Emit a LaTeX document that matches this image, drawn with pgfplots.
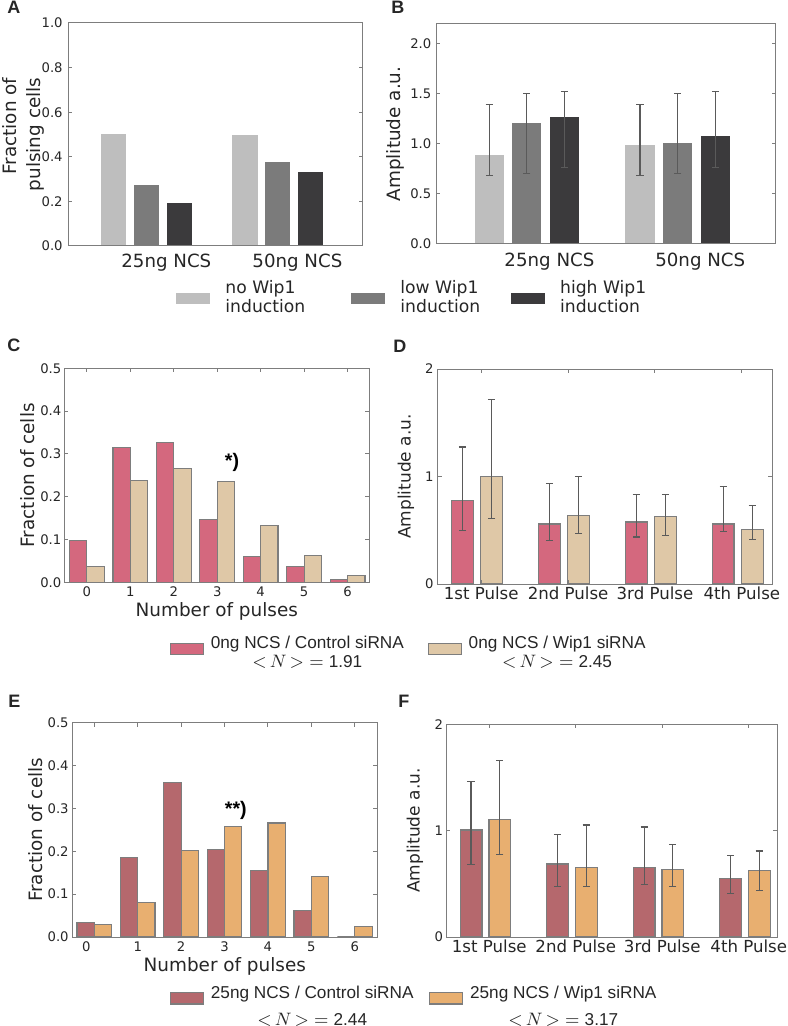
\documentclass[border=0pt]{standalone}
\usepackage{fontspec}
\setmainfont{DejaVu Sans}
\newfontfamily\lib{Liberation Sans}
\usepackage{pgfplots}
\pgfplotsset{compat=1.18}
\newlength\px \setlength\px{0.5pt}
\definecolor{g1}{RGB}{190,190,190}
\definecolor{g2}{RGB}{123,123,123}
\definecolor{g3}{RGB}{59,58,60}
\definecolor{redC}{RGB}{212,104,126}
\definecolor{tanC}{RGB}{223,200,167}
\definecolor{redE}{RGB}{181,104,109}
\definecolor{orE}{RGB}{232,175,112}
\definecolor{framec}{RGB}{125,125,125}
\definecolor{edgec}{RGB}{125,125,125}
\definecolor{errc}{RGB}{90,90,90}
\definecolor{txtc}{RGB}{38,38,38}
\newcommand\ticfont{\fontsize{6.6pt}{8pt}\selectfont}
\newcommand\labfont{\fontsize{9.2pt}{11pt}\selectfont}

\pgfplotsset{
  base/.style={scale only axis, anchor=north west, clip=false, axis on top,
    axis line style={draw=framec, line width=1\px},
    tick style={draw=framec, line width=1\px},
    major tick length=4\px, tick align=inside,
    ticklabel style={font=\ticfont, text=txtc},
    /pgf/number format/assume math mode=true,
    xticklabel style={inner sep=0pt, anchor=north},
    yticklabel style={inner sep=0pt, anchor=east},
    every axis y label/.style={rotate=90, anchor=center, font=\labfont, text=txtc, inner sep=0pt},
    every axis x label/.style={anchor=north, font=\labfont, text=txtc, inner sep=0pt},
    legend style={draw=none, fill=none, inner sep=0pt, column sep=0pt, anchor=west,
      nodes={inner sep=0pt}, text=txtc},
    legend cell align=left},
  dec1/.style={yticklabel style={/pgf/number format/fixed, /pgf/number format/fixed zerofill, /pgf/number format/precision=1}},
  barA/.style={ybar, bar width=0.8, bar shift=0pt, draw=white, line width=1\px},
  barC/.style={ybar, bar width=0.4, bar shift=0pt, draw=edgec, line width=1.2\px},
  barD/.style={ybar, bar width=0.25, bar shift=0pt, draw=edgec, line width=1.2\px},
  eb/.style={error bars/y dir=both, error bars/y explicit,
    error bars/error bar style={draw=errc, line width=1.2\px},
    error bars/error mark options={draw=errc, line width=1.2\px, mark size=3.6\px, rotate=90}},
  swA/.style={legend image code/.code={\draw[##1] (0,-10.8\px) rectangle (35\px,0.8\px); \path (49\px,0);}},
  swC/.style={legend image code/.code={\draw[##1] (0,-6.3\px) rectangle (33\px,4.7\px); \path (40\px,0);}},
  swE/.style={legend image code/.code={\draw[##1] (0,-7.5\px) rectangle (33.4\px,3.9\px); \path (40\px,0);}},
}

\begin{document}
\begin{tikzpicture}

% A
\begin{axis}[base, dec1, at={(68\px,-23\px)}, width=295\px, height=223\px,
  xmin=0, xmax=9, ymin=0, ymax=1,
  xtick={3,7}, xticklabels={25ng NCS,50ng NCS}, xtick style={draw=none},
  xticklabel style={font=\fontsize{9.1pt}{11pt}\selectfont, yshift=-8\px},
  ytick={0,0.2,0.4,0.6,0.8,1.0}, yticklabel style={xshift=-5\px},
  ylabel={\begin{tabular}{@{}r@{}}Fraction of\\pulsing cells\end{tabular}},
  ylabel style={at={(axis description cs:-0.15,0.5)}, font=\fontsize{9.2pt}{11.7pt}\selectfont},
  legend columns=3,
  legend style={at={(axis description cs:0.3627,-0.213)}, font=\fontsize{8.6pt}{9.5pt}\selectfont}]
\addplot[barA, fill=g1, swA] coordinates {(1.4,0.503) (5.4,0.499)};
\addlegendentry{\makebox[125\px][l]{\begin{tabular}{@{}l@{}}no Wip1\\induction\end{tabular}}}
\addplot[barA, fill=g2, swA] coordinates {(2.4,0.277) (6.4,0.380)};
\addlegendentry{\makebox[109.7\px][l]{\begin{tabular}{@{}l@{}}low Wip1\\induction\end{tabular}}}
\addplot[barA, fill=g3, swA] coordinates {(3.4,0.194) (7.4,0.333)};
\addlegendentry{\begin{tabular}{@{}l@{}}high Wip1\\induction\end{tabular}}
\end{axis}

% B
\begin{axis}[base, dec1, at={(436.3\px,-24\px)}, width=339.4\px, height=220\px,
  xmin=0, xmax=9, ymin=0, ymax=2.2,
  xtick={3,7}, xticklabels={25ng NCS,50ng NCS}, xtick style={draw=none},
  xticklabel style={font=\fontsize{9.1pt}{11pt}\selectfont, yshift=-9\px},
  ytick={0,0.5,1.0,1.5,2.0}, yticklabel style={xshift=-4.6\px},
  ylabel={Amplitude a.u.},
  ylabel style={at={(axis description cs:-0.12,0.5)}}]
\addplot[barA, fill=g1, eb] table[x=x, y=y, y error plus expr=\thisrow{hi}-\thisrow{y}, y error minus expr=\thisrow{y}-\thisrow{lo}] {
x   y     hi    lo
1.4 0.899 1.393 0.681
5.4 0.992 1.393 0.681
};
\addplot[barA, fill=g2, eb] table[x=x, y=y, y error plus expr=\thisrow{hi}-\thisrow{y}, y error minus expr=\thisrow{y}-\thisrow{lo}] {
x   y     hi    lo
2.4 1.212 1.503 0.701
6.4 1.012 1.503 0.701
};
\addplot[barA, fill=g3, eb] table[x=x, y=y, y error plus expr=\thisrow{hi}-\thisrow{y}, y error minus expr=\thisrow{y}-\thisrow{lo}] {
x   y     hi    lo
3.4 1.272 1.526 0.765
7.4 1.085 1.526 0.765
};
\end{axis}

% C
\begin{axis}[base, dec1, at={(64.3\px,-368.3\px)}, width=305\px, height=214\px,
  xmin=-0.52, xmax=6.5, ymin=0, ymax=0.5,
  xtick={0,1,2,3,4,5,6}, xticklabel style={yshift=-4.4\px},
  ytick={0,0.1,0.2,0.3,0.4,0.5}, yticklabel style={xshift=-2.6\px},
  xlabel={Number of pulses}, xlabel style={at={(axis description cs:0.5,-0.0907)}},
  ylabel={Fraction of cells}, ylabel style={at={(axis description cs:-0.119,0.5)}},
  legend columns=2,
  legend style={at={(axis description cs:0.344,-0.307)}, font=\lib\fontsize{8.6pt}{9.6pt}\selectfont}]
\addplot[barC, fill=redC, swC] table[x expr=\thisrow{n}-0.2, y=v] {
n v
0 0.097
1 0.315
2 0.326
3 0.147
4 0.060
5 0.037
6 0.007
};
\addlegendentry{\makebox[216.7\px][l]{\begin{tabular}{@{}c@{}}0ng NCS / Control siRNA\\$\mathord{<}\,N\,\mathord{>}\;{=}\;$1.91\end{tabular}}}
\addplot[barC, fill=tanC, swC] table[x expr=\thisrow{n}+0.2, y=v] {
n v
0 0.037
1 0.238
2 0.266
3 0.236
4 0.133
5 0.062
6 0.016
};
\addlegendentry{\begin{tabular}{@{}c@{}}0ng NCS / Wip1 siRNA\\$\mathord{<}\,N\,\mathord{>}\;{=}\;$2.45\end{tabular}}
\node[font=\lib\bfseries\fontsize{9.8pt}{11pt}\selectfont, inner sep=0pt] at (axis cs:3.34,0.28) {*)};
\end{axis}

% D
\begin{axis}[base, at={(437.7\px,-369\px)}, width=334.6\px, height=215\px,
  xmin=-0.5, xmax=3.35, ymin=0, ymax=2,
  xtick={0,1,2,3}, xticklabels={1st Pulse,2nd Pulse,3rd Pulse,4th Pulse},
  xticklabel style={font=\fontsize{8.3pt}{10pt}\selectfont, yshift=-2\px},
  ytick={0,1,2}, yticklabel style={xshift=-3.7\px},
  ylabel={Amplitude a.u.}, ylabel style={at={(axis description cs:-0.095,0.5)}, font=\fontsize{8.5pt}{10pt}\selectfont}]
\addplot[barD, fill=redC, eb] table[x expr=\thisrow{n}-0.215, y=v, y error plus expr=\thisrow{hi}-\thisrow{v}, y error minus expr=\thisrow{v}-\thisrow{lo}] {
n v     hi    lo
0 0.778 1.275 0.497
1 0.559 0.938 0.407
2 0.577 0.830 0.438
3 0.559 0.904 0.488
};
\addplot[barD, fill=tanC, eb] table[x expr=\thisrow{n}+0.12, y=v, y error plus expr=\thisrow{hi}-\thisrow{v}, y error minus expr=\thisrow{v}-\thisrow{lo}] {
n v     hi    lo
0 1.000 1.713 0.608
1 0.636 1.000 0.469
2 0.627 0.836 0.448
3 0.506 0.728 0.417
};
\end{axis}

% E
\begin{axis}[base, dec1, at={(72.3\px,-722.7\px)}, width=305\px, height=214.3\px,
  xmin=-0.507, xmax=6.52, ymin=0, ymax=0.5,
  xtick={0,1,2,3,4,5,6}, xticklabels={\kern-8\px 0\kern8\px,1,2,3,4,5,6},
  xticklabel style={yshift=-4.7\px},
  ytick={0,0.1,0.2,0.3,0.4,0.5}, yticklabel style={xshift=-3.3\px},
  xlabel={Number of pulses}, xlabel style={at={(axis description cs:0.5,-0.092)}},
  ylabel={Fraction of cells}, ylabel style={at={(axis description cs:-0.12,0.5)}},
  legend columns=2,
  legend style={at={(axis description cs:0.318,-0.2777)}, font=\lib\fontsize{8.6pt}{13.5pt}\selectfont}]
\addplot[barC, fill=redE, swE] table[x expr=\thisrow{n}-0.2, y=v] {
n v
0 0.034
1 0.186
2 0.360
3 0.205
4 0.155
5 0.061
6 0.000
};
\addlegendentry{\makebox[218\px][l]{\begin{tabular}{@{}c@{}}25ng NCS / Control siRNA\\$\mathord{<}\,N\,\mathord{>}\;{=}\;$2.44\end{tabular}}}
\addplot[barC, fill=orE, swE] table[x expr=\thisrow{n}+0.2, y=v] {
n v
0 0.030
1 0.080
2 0.201
3 0.257
4 0.266
5 0.141
6 0.025
};
\addlegendentry{\begin{tabular}{@{}c@{}}25ng NCS / Wip1 siRNA\\$\mathord{<}\,N\,\mathord{>}\;{=}\;$3.17\end{tabular}}
\node[font=\lib\bfseries\fontsize{9.8pt}{11pt}\selectfont, inner sep=0pt] at (axis cs:3.26,0.296) {**)};
\end{axis}

% F
\begin{axis}[base, at={(446\px,-724.3\px)}, width=331.3\px, height=212.7\px,
  xmin=-0.5, xmax=3.33, ymin=0, ymax=2,
  xtick={0,1,2,3}, xticklabels={1st Pulse,2nd Pulse,3rd Pulse,4th Pulse},
  xticklabel style={font=\fontsize{8.3pt}{10pt}\selectfont, yshift=-2.5\px},
  ytick={0,1,2}, yticklabel style={xshift=-2.7\px},
  ylabel={Amplitude a.u.}, ylabel style={at={(axis description cs:-0.094,0.5)}, font=\fontsize{8.5pt}{10pt}\selectfont}]
\addplot[barD, fill=redE, eb] table[x expr=\thisrow{n}-0.21, y=v, y error plus expr=\thisrow{hi}-\thisrow{v}, y error minus expr=\thisrow{v}-\thisrow{lo}] {
n v     hi    lo
0 1.006 1.461 0.681
1 0.687 0.962 0.475
2 0.657 1.035 0.491
3 0.547 0.770 0.406
};
\addplot[barD, fill=orE, eb] table[x expr=\thisrow{n}+0.122, y=v, y error plus expr=\thisrow{hi}-\thisrow{v}, y error minus expr=\thisrow{v}-\thisrow{lo}] {
n v     hi    lo
0 1.107 1.661 0.777
1 0.656 1.053 0.475
2 0.638 0.871 0.475
3 0.626 0.808 0.437
};
\end{axis}

% panel letters
\begin{scope}[every node/.style={font=\lib\bfseries\fontsize{9pt}{10pt}\selectfont, anchor=base west, inner sep=0pt, text=txtc}]
\node at (7\px,-13.3\px) {A};
\node at (391\px,-13.3\px) {B};
\node at (7\px,-351.7\px) {C};
\node at (393\px,-352.7\px) {D};
\node at (8\px,-707.3\px) {E};
\node at (398\px,-707.3\px) {F};
\end{scope}

\pgfresetboundingbox
\path[use as bounding box] (0,0) rectangle (787\px,-1026\px);
\end{tikzpicture}
\end{document}
